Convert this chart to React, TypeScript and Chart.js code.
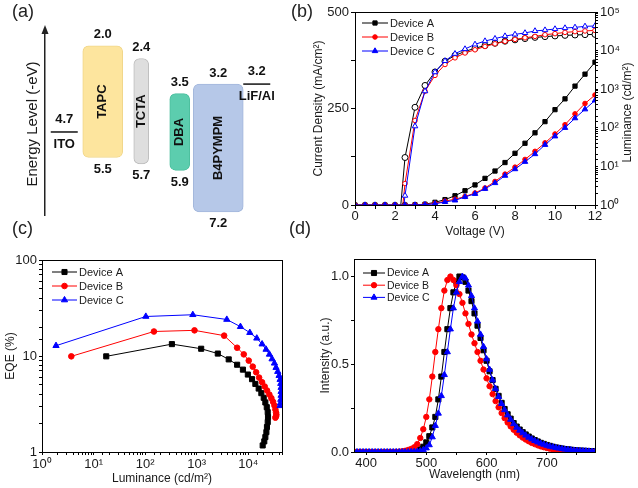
import React, { useEffect, useRef } from 'react';
import { Chart, registerables } from 'chart.js';

Chart.register(...registerables);

const FONT = '"Liberation Sans", Arial, Helvetica, sans-serif';
Chart.defaults.font.family = FONT;
Chart.defaults.color = '#1a1a1a';

// ---------------- (a) energy levels ----------------
const STACK = ['ITO', 'TAPC', 'TCTA', 'DBA', 'B4PYMPM', 'LiF/Al'];
const LAYERS = ['TAPC', 'TCTA', 'DBA', 'B4PYMPM'];
const LAYER_LUMO = [2.0, 2.4, 3.5, 3.2];
const LAYER_HOMO = [5.5, 5.7, 5.9, 7.2];
const ELECTRODES = ['ITO', 'LiF/Al'];
const ELECTRODE_WF = [4.7, 3.2];

// ---------------- shared ----------------
const DEVICES = ['Device A', 'Device B', 'Device C'];

// ---------------- (b) J-V-L ----------------
const VOLTAGE = [0, 0.5, 1, 1.5, 2, 2.5, 3, 3.5, 4, 4.5, 5, 5.5, 6, 6.5, 7, 7.5, 8, 8.5, 9, 9.5, 10, 10.5, 11, 11.5, 12];
const J_A = [0, 0, 0, 0, 0, 0, 0.5, 2, 7, 14, 24, 37, 52, 69, 88, 110, 134, 160, 187, 216, 247, 275, 308, 339, 370];
const J_B = [0, 0, 0, 0, 0, 0, 0.3, 1.2, 4, 10, 15, 22, 31, 44, 61, 80, 98, 118, 139, 161, 184, 208, 236, 263, 285];
const J_C = [0, 0, 0, 0, 0, 0, 0.2, 1, 3, 8, 12, 21, 29, 42, 57, 76, 93, 112, 132, 156, 178, 200, 225, 248, 271];
const LUM_VOLTAGE = [2, 2.5, 3, 3.5, 4, 4.5, 5, 5.5, 6, 6.5, 7, 7.5, 8, 8.5, 9, 9.5, 10, 10.5, 11, 11.5, 12];
const LUM_A = [0.02, 17, 340, 1250, 2800, 5300, 7500, 9500, 11500, 13500, 15500, 17500, 19000, 20500, 22000, 23000, 24000, 24800, 25400, 25900, 26300];
const LUM_B = [0.01, 3.6, 155, 890, 2280, 4370, 6500, 8700, 10500, 12800, 15000, 17400, 19500, 21500, 23300, 25800, 27500, 29600, 31000, 32300, 33400];
const LUM_C = [0.01, 1.75, 110, 890, 2770, 5400, 8300, 11000, 14500, 17700, 20400, 23800, 26300, 28700, 32300, 34000, 36300, 38500, 40000, 42500, 43500];

// ---------------- (c) EQE-L ----------------
const EQE_LUM_A = [17.6, 330, 1220, 2560, 4170, 6070, 7860, 9800, 11800, 13700, 15900, 17900, 19900, 21400, 22800, 23800, 24100, 23800, 23000, 22400, 21400, 20400, 19000];
const EQE_A = [9.92, 13.3, 11.9, 10.6, 9.22, 8.11, 7.21, 6.41, 5.74, 5.12, 4.58, 4.10, 3.67, 3.28, 2.93, 2.60, 2.31, 2.05, 1.82, 1.61, 1.43, 1.29, 1.17];
const EQE_LUM_B = [3.7, 148, 905, 3400, 6070, 8170, 10200, 12200, 14200, 16200, 18500, 20800, 23100, 25600, 28000, 30200, 32100, 33500, 34500, 35000, 34500, 33500];
const EQE_B = [9.92, 18.0, 18.5, 16.3, 12.2, 10.4, 8.95, 7.75, 6.77, 5.96, 5.33, 4.81, 4.37, 3.97, 3.64, 3.33, 3.05, 2.77, 2.58, 2.45, 2.35, 2.28];
const EQE_LUM_C = [1.87, 103, 840, 3830, 7040, 10700, 14600, 18500, 22100, 25700, 28900, 32100, 34500, 37200, 39500, 41300, 42600, 43200, 43200, 43200, 42600, 42000, 41300];
const EQE_C = [12.8, 25.8, 26.9, 24.0, 20.2, 17.5, 15.3, 13.3, 11.7, 10.4, 9.3, 8.4, 7.57, 6.88, 6.25, 5.68, 5.16, 4.69, 4.26, 3.88, 3.52, 3.23, 3.03];

// ---------------- (d) EL spectra ----------------
const WAVELENGTH = [
  380, 385, 390, 395, 400, 405, 410, 415, 420, 425,
  430, 435, 440, 445, 450, 455, 460, 465, 470, 475,
  480, 485, 490, 495, 500, 505, 510, 515, 520, 525,
  530, 535, 540, 545, 550, 555, 560, 565, 570, 575,
  580, 585, 590, 595, 600, 605, 610, 615, 620, 625,
  630, 635, 640, 645, 650, 655, 660, 665, 670, 675,
  680, 685, 690, 695, 700, 705, 710, 715, 720, 725,
  730, 735, 740, 745, 750, 755, 760, 765, 770, 775,
  780,
];
const EL_A = [
  0, 0, 0, 0, 0, 0, 0, 0, 0, 0,
  0, 0, 0, 0, 0, 0, 0, 0, 0.001, 0.002,
  0.004, 0.008, 0.015, 0.03, 0.055, 0.09, 0.14, 0.2, 0.3, 0.43,
  0.57, 0.7, 0.82, 0.91, 0.97, 1.0, 0.995, 0.97, 0.92, 0.86,
  0.79, 0.72, 0.65, 0.58, 0.52, 0.46, 0.41, 0.36, 0.32, 0.28,
  0.245, 0.215, 0.19, 0.165, 0.145, 0.128, 0.113, 0.1, 0.088, 0.077,
  0.068, 0.06, 0.052, 0.046, 0.04, 0.035, 0.03, 0.026, 0.023, 0.02,
  0.017, 0.015, 0.013, 0.011, 0.009, 0.008, 0.007, 0.006, 0.005, 0.004,
  0.004,
];
const EL_B = [
  0, 0, 0, 0, 0, 0, 0, 0, 0, 0,
  0, 0, 0, 0, 0.001, 0.002, 0.004, 0.007, 0.012, 0.018,
  0.027, 0.045, 0.08, 0.13, 0.2, 0.3, 0.43, 0.57, 0.7, 0.82,
  0.92, 0.98, 1.0, 0.98, 0.95, 0.9, 0.85, 0.79, 0.73, 0.67,
  0.62, 0.57, 0.52, 0.47, 0.42, 0.375, 0.33, 0.29, 0.255, 0.222,
  0.193, 0.168, 0.146, 0.127, 0.11, 0.095, 0.082, 0.071, 0.061, 0.052,
  0.045, 0.038, 0.032, 0.027, 0.023, 0.019, 0.016, 0.013, 0.011, 0.009,
  0.007, 0.006, 0.005, 0.004, 0.003, 0.002, 0.002, 0.001, 0.001, 0.001,
  0.001,
];
const EL_C = [
  0, 0, 0, 0, 0, 0, 0, 0, 0, 0,
  0, 0, 0, 0, 0, 0, 0, 0, 0, 0.001,
  0.002, 0.003, 0.005, 0.012, 0.022, 0.04, 0.085, 0.15, 0.22, 0.32,
  0.44, 0.57, 0.7, 0.82, 0.91, 0.97, 1.0, 0.99, 0.95, 0.89,
  0.82, 0.745, 0.67, 0.6, 0.53, 0.47, 0.41, 0.36, 0.315, 0.275,
  0.24, 0.21, 0.185, 0.16, 0.14, 0.123, 0.108, 0.095, 0.083, 0.073,
  0.064, 0.056, 0.049, 0.043, 0.037, 0.032, 0.028, 0.024, 0.021, 0.018,
  0.015, 0.013, 0.011, 0.009, 0.008, 0.007, 0.006, 0.005, 0.004, 0.003,
  0.003,
];
const D_X_TICKS = [400, 450, 500, 550, 600, 650, 700, 750];
const D_Y_TICKS = [0, 0.25, 0.5, 0.75, 1.0];

// ---------------- styles ----------------
const COLORS = ['#000000', '#ff0000', '#0000ff'];
const STYLES = ['rect', 'circle', 'triangle'];
const LUM_STYLES = ['circle', 'circle', 'triangle'];
const LAYER_FILL = ['#fde59e', '#dedede', '#5ccdae', '#b6c8e8'];
const LAYER_EDGE = ['#f0d68a', '#bdbdbd', '#4cbf9e', '#a3b7dc'];
const LAYER_WIDTH = [40, 15, 20, 50];
const TEXT = '#1a1a1a';

// ---------------- helpers ----------------
const SUP: Record<string, string> = { '0': '⁰', '1': '¹', '2': '²', '3': '³', '4': '⁴', '5': '⁵', '6': '⁶', '7': '⁷', '8': '⁸', '9': '⁹', '-': '⁻' };
function isPow10(v: number) {
  const e = Math.log10(v);
  return Math.abs(e - Math.round(e)) < 1e-6;
}
function powLabel(v: any) {
  const n = Number(v);
  if (!isPow10(n)) return '';
  const r = Math.round(Math.log10(n));
  return '10' + String(r).split('').map((c) => SUP[c] ?? c).join('');
}
function plainPowLabel(v: any) {
  const n = Number(v);
  return isPow10(n) ? String(Math.round(n)) : '';
}

function drawMarker(ctx: CanvasRenderingContext2D, style: string, x: number, y: number, r: number, stroke: string, fill: string) {
  ctx.beginPath();
  if (style === 'rect') {
    const s = r * Math.SQRT1_2;
    ctx.rect(x - s, y - s, 2 * s, 2 * s);
  } else if (style === 'triangle') {
    for (let k = 0; k < 3; k++) {
      const a = (k * 2 * Math.PI) / 3;
      const px = x + Math.sin(a) * r;
      const py = y - Math.cos(a) * r;
      if (k === 0) ctx.moveTo(px, py);
      else ctx.lineTo(px, py);
    }
    ctx.closePath();
  } else {
    ctx.arc(x, y, r, 0, Math.PI * 2);
  }
  ctx.fillStyle = fill;
  ctx.fill();
  ctx.strokeStyle = stroke;
  ctx.lineWidth = 1;
  ctx.stroke();
}

const inLegend = {
  id: 'inLegend',
  afterDatasetsDraw(chart: any, _args: any, opts: any) {
    if (!opts || !opts.items) return;
    const ctx: CanvasRenderingContext2D = chart.ctx;
    ctx.save();
    ctx.font = `${opts.fontSize}px ${FONT}`;
    ctx.textBaseline = 'middle';
    ctx.textAlign = 'left';
    opts.items.forEach((dsIndex: number, row: number) => {
      const ds = chart.data.datasets[dsIndex];
      const y = opts.y + row * opts.rowH;
      ctx.strokeStyle = ds.borderColor;
      ctx.lineWidth = 1;
      ctx.beginPath();
      ctx.moveTo(opts.x, y);
      ctx.lineTo(opts.x + opts.len, y);
      ctx.stroke();
      drawMarker(ctx, ds.pointStyle, opts.x + opts.len / 2, y, ds.pointRadius, ds.borderColor, ds.pointBackgroundColor);
      ctx.fillStyle = TEXT;
      ctx.fillText(ds.label, opts.x + opts.len + 2, y + 0.5);
    });
    ctx.restore();
  },
};

const frame = {
  id: 'frame',
  afterDraw(chart: any) {
    const { ctx, chartArea: a } = chart;
    ctx.save();
    ctx.strokeStyle = '#000';
    ctx.lineWidth = 1;
    const l = Math.round(a.left) + 0.5;
    const t = Math.round(a.top) + 0.5;
    ctx.strokeRect(l, t, Math.round(a.right) - Math.round(a.left), Math.round(a.bottom) - Math.round(a.top));
    ctx.restore();
  },
};

const sideTitle = {
  id: 'sideTitle',
  afterDraw(chart: any, _args: any, opts: any) {
    if (!opts || !opts.text) return;
    const { ctx, chartArea: a } = chart;
    ctx.save();
    ctx.translate(opts.x, (a.top + a.bottom) / 2 + (opts.dy || 0));
    ctx.rotate(-Math.PI / 2);
    ctx.textAlign = 'center';
    ctx.textBaseline = 'middle';
    ctx.fillStyle = TEXT;
    ctx.font = `${opts.fontSize || 12}px ${FONT}`;
    ctx.fillText(opts.text, 0, 0);
    ctx.restore();
  },
};

const energyLabels = {
  id: 'energyLabels',
  afterDraw(chart: any) {
    const { ctx, chartArea: a, scales } = chart;
    const xs = scales.x;
    const ys = scales.y;
    ctx.save();
    // arrow head of energy axis
    ctx.fillStyle = '#222';
    ctx.beginPath();
    ctx.moveTo(a.left, a.top - 8);
    ctx.lineTo(a.left - 3.5, a.top + 1);
    ctx.lineTo(a.left + 3.5, a.top + 1);
    ctx.closePath();
    ctx.fill();

    ctx.font = `bold 13px ${FONT}`;
    ctx.textAlign = 'center';
    ctx.textBaseline = 'middle';
    ctx.fillStyle = '#111';
    LAYERS.forEach((name, i) => {
      const x = xs.getPixelForValue(STACK.indexOf(name));
      const top = ys.getPixelForValue(LAYER_LUMO[i]);
      const bot = ys.getPixelForValue(LAYER_HOMO[i]);
      ctx.fillText(LAYER_LUMO[i].toFixed(1), x, top - 11);
      ctx.fillText(LAYER_HOMO[i].toFixed(1), x, bot + 12);
      ctx.save();
      ctx.translate(x, (top + bot) / 2);
      ctx.rotate(-Math.PI / 2);
      ctx.fillText(name, 0, 0);
      ctx.restore();
    });
    ELECTRODES.forEach((name, i) => {
      const x = xs.getPixelForValue(STACK.indexOf(name));
      const y = ys.getPixelForValue(ELECTRODE_WF[i]);
      ctx.strokeStyle = '#111';
      ctx.lineWidth = 1.5;
      ctx.beginPath();
      ctx.moveTo(x - 13.5, y);
      ctx.lineTo(x + 13.5, y);
      ctx.stroke();
      ctx.fillText(ELECTRODE_WF[i].toFixed(1), x, y - 13);
      ctx.fillText(name, x, y + 12);
    });
    ctx.restore();
  },
};

function series(label: string, xs: number[], ys: number[], color: string, style: string, radius: number, open = false) {
  return {
    label,
    data: xs.map((x, i) => ({ x, y: ys[i] })),
    showLine: true,
    borderColor: color,
    backgroundColor: open ? '#ffffff' : color,
    pointStyle: style,
    pointRadius: radius,
    pointBorderWidth: 1,
    pointBorderColor: color,
    pointBackgroundColor: open ? '#ffffff' : color,
    borderWidth: 1,
    tension: 0,
  };
}

function gridOpts(len = 4) {
  return { display: true, drawOnChartArea: false, drawTicks: true, tickLength: len, color: '#000', lineWidth: 1 };
}
const borderOpts = { display: true, color: '#000', width: 1 };
const tickFont = { size: 13 };
const titleFont = { size: 12 };

// ---------------- chart configs ----------------
function makeA(): any {
  return {
    type: 'bar',
    data: {
      labels: STACK,
      datasets: LAYERS.map((name, i) => ({
        label: name,
        data: STACK.map((s) => (s === name ? [LAYER_LUMO[i], LAYER_HOMO[i]] : null)),
        backgroundColor: LAYER_FILL[i],
        borderColor: LAYER_EDGE[i],
        borderWidth: 1,
        borderRadius: 6,
        borderSkipped: false,
        barThickness: LAYER_WIDTH[i],
        grouped: false,
      })),
    },
    options: {
      responsive: false,
      animation: false,
      events: [],
      layout: { padding: { top: 33, bottom: 29, right: 24, left: 0 } },
      plugins: { legend: { display: false }, tooltip: { enabled: false } },
      scales: {
        x: { display: false },
        y: {
          reverse: true,
          min: 1.6,
          max: 7.3,
          ticks: { display: false },
          grid: { display: false, drawTicks: false },
          border: { display: true, color: '#222', width: 1.5 },
          title: { display: true, text: 'Energy Level (-eV)', color: TEXT, font: { size: 15 }, padding: { top: 24, bottom: 0 } },
          afterFit: (s: any) => { s.width = 45; },
        },
      },
    },
    plugins: [energyLabels],
  };
}

function makeB(): any {
  const jd = [J_A, J_B, J_C];
  const ld = [LUM_A, LUM_B, LUM_C];
  const rad = [3, 2.3, 3.2];
  return {
    type: 'scatter',
    data: {
      datasets: [
        ...DEVICES.map((d, i) => ({ ...series(d, VOLTAGE, jd[i], COLORS[i], STYLES[i], rad[i]), yAxisID: 'y', order: 2 - i })),
        ...DEVICES.map((d, i) => ({ ...series(d + ' L', LUM_VOLTAGE, ld[i], COLORS[i], LUM_STYLES[i], rad[i], true), yAxisID: 'y1', order: 5 - i })),
      ],
    },
    options: {
      responsive: false,
      animation: false,
      events: [],
      layout: { padding: { top: 12, left: 0, right: 0, bottom: 0 } },
      plugins: {
        legend: { display: false },
        tooltip: { enabled: false },
        inLegend: { items: [0, 1, 2], x: 62, y: 23, rowH: 14, len: 26, fontSize: 11 },
        sideTitle: { text: 'Luminance (cd/m²)', x: 328, fontSize: 12, dy: 4 },
      },
      scales: {
        x: {
          type: 'linear', position: 'bottom', min: 0, max: 12,
          ticks: { stepSize: 1, autoSkip: false, maxRotation: 0, padding: 0, font: tickFont, color: TEXT, callback: (v: any) => (Number(v) % 2 === 0 ? String(v) : '') },
          grid: gridOpts(4), border: borderOpts,
          title: { display: true, text: 'Voltage (V)', color: TEXT, font: titleFont, padding: { top: 0, bottom: 5 } },
          afterFit: (s: any) => { s.height = 39; },
        },
        y: {
          type: 'linear', position: 'left', min: 0, max: 500,
          ticks: { stepSize: 125, autoSkip: false, padding: 2, font: tickFont, color: TEXT, callback: (v: any) => (Number(v) % 250 === 0 ? String(v) : '') },
          grid: gridOpts(4), border: borderOpts,
          title: { display: true, text: 'Current Density (mA/cm²)', color: TEXT, font: titleFont, padding: { top: 11, bottom: 0 } },
          afterFit: (s: any) => { s.width = 55; },
        },
        y1: {
          type: 'logarithmic', position: 'right', min: 1, max: 100000,
          ticks: { autoSkip: false, padding: 2, font: tickFont, color: TEXT, callback: powLabel },
          grid: gridOpts(3), border: borderOpts,
          afterFit: (s: any) => { s.width = 43; },
        },
      },
    },
    plugins: [inLegend, frame, sideTitle],
  };
}

function makeC(): any {
  const lx = [EQE_LUM_A, EQE_LUM_B, EQE_LUM_C];
  const ey = [EQE_A, EQE_B, EQE_C];
  const rad = [3.6, 2.8, 3.6];
  return {
    type: 'scatter',
    data: {
      datasets: DEVICES.map((d, i) => ({ ...series(d, lx[i], ey[i], COLORS[i], STYLES[i], rad[i]), order: 2 - i })),
    },
    options: {
      responsive: false,
      animation: false,
      events: [],
      layout: { padding: { top: 16, left: 0, right: 18, bottom: 0 } },
      plugins: {
        legend: { display: false },
        tooltip: { enabled: false },
        inLegend: { items: [0, 1, 2], x: 52, y: 28, rowH: 14, len: 25, fontSize: 11 },
      },
      scales: {
        x: {
          type: 'logarithmic', position: 'bottom', min: 1, max: 45000,
          ticks: { autoSkip: false, maxRotation: 0, padding: 2, font: tickFont, color: TEXT, callback: powLabel },
          grid: gridOpts(3), border: borderOpts,
          title: { display: true, text: 'Luminance (cd/m²)', color: TEXT, font: titleFont, padding: { top: 0, bottom: 2 } },
          afterFit: (s: any) => { s.height = 36; },
        },
        y: {
          type: 'logarithmic', position: 'left', min: 1, max: 100,
          ticks: { autoSkip: false, padding: 2, font: tickFont, color: TEXT, callback: plainPowLabel },
          grid: gridOpts(3), border: borderOpts,
          title: { display: true, text: 'EQE (%)', color: TEXT, font: titleFont, padding: { top: 3, bottom: 0 } },
          afterFit: (s: any) => { s.width = 42; },
        },
      },
    },
    plugins: [inLegend, frame],
  };
}

function makeD(): any {
  const el = [EL_A, EL_B, EL_C];
  const rad = [3.6, 2.7, 3.5];
  return {
    type: 'scatter',
    data: {
      datasets: DEVICES.map((d, i) => ({ ...series(d, WAVELENGTH, el[i], COLORS[i], STYLES[i], rad[i]), order: 2 - i })),
    },
    options: {
      responsive: false,
      animation: false,
      events: [],
      layout: { padding: { top: 15, left: 0, right: 43, bottom: 0 } },
      plugins: {
        legend: { display: false },
        tooltip: { enabled: false },
        inLegend: { items: [0, 1, 2], x: 63, y: 29, rowH: 12.2, len: 22, fontSize: 10.5 },
      },
      scales: {
        x: {
          type: 'linear', position: 'bottom', min: 380, max: 780,
          afterBuildTicks: (s: any) => { s.ticks = D_X_TICKS.map((v) => ({ value: v })); },
          ticks: { autoSkip: false, maxRotation: 0, padding: 1, font: tickFont, color: TEXT, callback: (v: any) => (Number(v) % 100 === 0 ? String(v) : '') },
          grid: gridOpts(3), border: borderOpts,
          title: { display: true, text: 'Wavelength (nm)', color: TEXT, font: titleFont, padding: { top: 0, bottom: 6 } },
          afterFit: (s: any) => { s.height = 36; },
        },
        y: {
          type: 'linear', position: 'left', min: 0, max: 1.1,
          afterBuildTicks: (s: any) => { s.ticks = D_Y_TICKS.map((v) => ({ value: v })); },
          ticks: { autoSkip: false, padding: 2, font: tickFont, color: TEXT, callback: (v: any) => ((Number(v) * 2) % 1 === 0 ? Number(v).toFixed(1) : '') },
          grid: gridOpts(3), border: borderOpts,
          title: { display: true, text: 'Intensity (a.u.)', color: TEXT, font: titleFont, padding: { top: 18, bottom: 0 } },
          afterFit: (s: any) => { s.width = 54; },
        },
      },
    },
    plugins: [inLegend, frame],
  };
}

// ---------------- components ----------------
function Panel({ left, top, width, height, make }: { left: number; top: number; width: number; height: number; make: () => any }) {
  const ref = useRef<HTMLCanvasElement | null>(null);
  useEffect(() => {
    if (!ref.current) return;
    const chart = new Chart(ref.current, make());
    return () => chart.destroy();
  }, []);
  return (
    <div style={{ position: 'absolute', left, top, width, height }}>
      <canvas ref={ref} width={width} height={height} style={{ width, height, display: 'block' }} />
    </div>
  );
}

function Tag({ x, y, t }: { x: number; y: number; t: string }) {
  return (
    <div style={{ position: 'absolute', left: x, top: y, fontSize: 18, lineHeight: '20px', fontFamily: FONT, color: '#222', whiteSpace: 'nowrap' }}>{t}</div>
  );
}

export default function App() {
  return (
    <div style={{ position: 'fixed', left: 0, top: 0, width: 638, height: 488, background: '#fff', overflow: 'hidden' }}>
      <Panel left={0} top={0} width={300} height={244} make={makeA} />
      <Panel left={300} top={0} width={338} height={244} make={makeB} />
      <Panel left={0} top={244} width={300} height={244} make={makeC} />
      <Panel left={300} top={244} width={338} height={244} make={makeD} />
      <Tag x={12} y={1} t="(a)" />
      <Tag x={291} y={1} t="(b)" />
      <Tag x={12} y={218} t="(c)" />
      <Tag x={289} y={218} t="(d)" />
    </div>
  );
}
